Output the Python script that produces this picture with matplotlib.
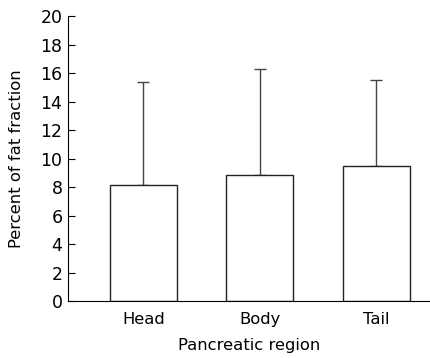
import numpy as np
import matplotlib
matplotlib.use("Agg")
import matplotlib.pyplot as plt

regions = ["Head", "Body", "Tail"]
means = [8.15, 8.87, 9.45]
sd_upper = [7.22, 7.41, 6.1]

plt.rcParams['font.family'] = ['DejaVu Sans']

fig = plt.figure(figsize=(4.3, 3.58), dpi=100)
ax = fig.add_axes([0.158, 0.159, 0.842, 0.796])

x = np.arange(len(regions))
ax.bar(x, means, width=0.575, color='white', edgecolor='#222222', linewidth=1.0, zorder=2)
ax.errorbar(x, means, yerr=[np.zeros(len(means)), sd_upper], fmt='none',
            ecolor='#444444', elinewidth=1.0, capsize=4, capthick=1.0, zorder=1)

ax.set_xlim(-0.648, 2.46)
ax.set_ylim(0, 20)
ax.set_yticks(range(0, 21, 2))
ax.set_xticks(x)
ax.set_xticklabels(regions, fontsize=11.8)
ax.tick_params(axis='y', direction='in', length=5, labelsize=12.5, pad=4)
ax.tick_params(axis='x', length=0, pad=8)
ax.spines['top'].set_visible(False)
ax.spines['right'].set_visible(False)
ax.set_xlabel("Pancreatic region", fontsize=11.8, labelpad=8)
ax.set_ylabel("Percent of fat fraction", fontsize=11.8, labelpad=12)

fig.savefig("out.png", dpi=100)
